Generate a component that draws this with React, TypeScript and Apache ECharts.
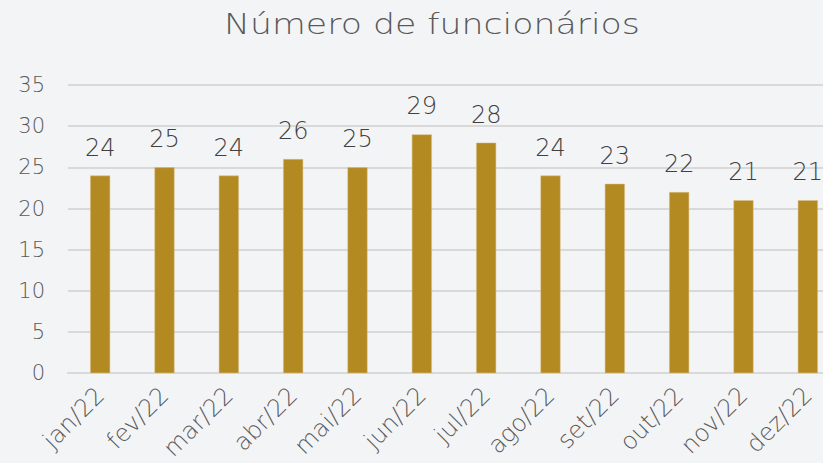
import React, { useEffect, useRef } from "react";
import * as echarts from "echarts";

const categories = ["jan/22", "fev/22", "mar/22", "abr/22", "mai/22", "jun/22", "jul/22", "ago/22", "set/22", "out/22", "nov/22", "dez/22"];
const values = [24, 25, 24, 26, 25, 29, 28, 24, 23, 22, 21, 21];
const titleText = "Número de funcionários";

export default function App() {
  const ref = useRef<HTMLDivElement>(null);
  useEffect(() => {
    const chart = echarts.init(ref.current!, null, { renderer: "svg" });
    const font = "DejaVu Sans";
    chart.setOption({
      animation: false,
      backgroundColor: "#F3F4F6",
      graphic: [
        {
          type: "text",
          x: 432,
          y: 24,
          scaleX: 1.24,
          style: {
            text: titleText,
            font: `200 28px "${font}"`,
            fill: "#595959",
            textAlign: "center",
            textVerticalAlign: "middle",
          },
        },
      ],
      grid: { left: 68, right: 24, top: 85, height: 290, containLabel: false },
      xAxis: {
        type: "category",
        data: categories,
        axisLine: { lineStyle: { color: "#D9D9D9", width: 2 } },
        axisTick: { show: false },
        axisLabel: { rotate: 45, fontFamily: font, fontWeight: 200, fontSize: 24, color: "#595959", margin: 18, interval: 0 },
      },
      yAxis: {
        type: "value",
        min: 0,
        max: 35,
        interval: 5,
        axisLine: { show: false },
        axisTick: { show: false },
        splitLine: { lineStyle: { color: "#D9D9D9", width: 2 } },
        axisLabel: { fontFamily: font, fontWeight: 200, fontSize: 21, color: "#595959", margin: 23 },
      },
      series: [
        {
          type: "bar",
          data: values,
          barWidth: 20,
          itemStyle: { color: "#B38A22", borderColor: "#D9C089", borderWidth: 0.5 },
          label: { show: true, position: "top", distance: 16, fontFamily: font, fontWeight: 200, fontSize: 24, color: "#404040" },
        },
      ],
    });
    return () => chart.dispose();
  }, []);
  return (
    <div style={{ position: "fixed", left: 0, top: 0, width: 823, height: 463, overflow: "hidden" }}>
      <div ref={ref} style={{ width: 864, height: 463 }} />
    </div>
  );
}
